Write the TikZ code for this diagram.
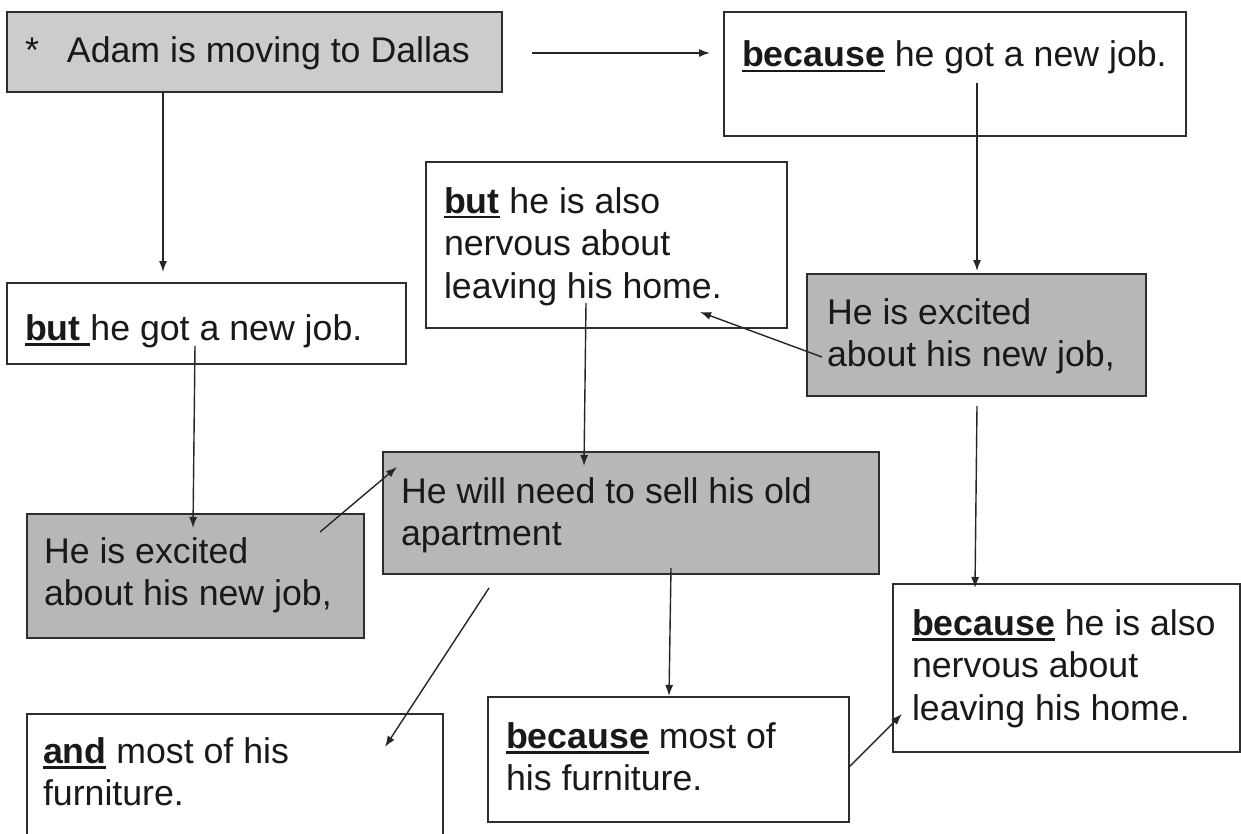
\documentclass[tikz,border=0pt]{standalone}
\usepackage{fontspec}
\setmainfont{Liberation Sans}
\usetikzlibrary{calc,arrows.meta}
\definecolor{lgray}{HTML}{CCCCCC}
\definecolor{mgray}{HTML}{B7B7B7}
\definecolor{edge}{HTML}{2E2E2E}
\newcommand\myul[1]{\setbox0=\hbox{#1}\rlap{\rule[-5.5pt]{\wd0}{2.8pt}}\box0\relax}
\newcommand\fl{\rule{0pt}{28pt}}
\tikzset{
  box/.style={draw=edge, line width=1.8pt, anchor=north west, inner sep=0pt, outer sep=0pt},
  txt/.style={anchor=north west, inner sep=0pt, outer sep=0pt, align=left,
              font=\fontsize{35.7}{42.5}\selectfont, text=black!90},
  conn/.style={line width=1.4pt, black!85, -{Latex[length=11pt,width=8pt]}}
}
\begin{document}
\begin{tikzpicture}[x=1pt,y=-1pt]
\clip (0,0) rectangle (1241,834);
\fill[white] (0,0) rectangle (1241,834);
% boxes
\node[box, fill=lgray, minimum width=495pt, minimum height=80pt] (adam) at (7,12) {};
\node[box, fill=white, minimum width=462pt, minimum height=124pt] (because1) at (724,12) {};
\node[box, fill=white, minimum width=399pt, minimum height=81pt] (butnew) at (7,283) {};
\node[box, fill=white, minimum width=361pt, minimum height=166pt] (butalso) at (426,162) {};
\node[box, fill=mgray, minimum width=339pt, minimum height=122pt] (excR) at (807,274) {};
\node[box, fill=mgray, minimum width=337pt, minimum height=124pt] (excL) at (27,514) {};
\node[box, fill=mgray, minimum width=496pt, minimum height=122pt] (sell) at (383,452) {};
\node[box, fill=white, minimum width=416pt, minimum height=140pt] (andb) at (27,714) {};
\node[box, fill=white, minimum width=361pt, minimum height=125pt] (bmost) at (488,697) {};
\node[box, fill=white, minimum width=347pt, minimum height=168pt] (bhome) at (893,584) {};
% texts
\node[txt] (adamT) at (25,{63-28}) {\fl\makebox[42pt][l]{*}Adam is moving to Dallas};
\node[txt] (because1T) at (742,{67-28}) {\fl\myul{\textbf{because}} he got a new job.};
\node[txt] (butnewT) at (25,{340-28}) {\fl\myul{\textbf{but} }he got a new job.};
\node[txt] (butalsoT) at (444,{213-28}) {\fl\myul{\textbf{but}} he is also\\nervous about\\leaving his home.};
\node[txt] (excRT) at (827,{324-28}) {\fl He is excited\\about his new job,};
\node[txt] (excLT) at (44,{563-28}) {\fl He is excited\\about his new job,};
\node[txt] (sellT) at (401,{503-28}) {\fl He will need to sell his old\\apartment};
\node[txt] (andT) at (43,{763-28}) {\fl\myul{\textbf{and}} most of his\\furniture.};
\node[txt] (bmostT) at (506,{748-28}) {\fl\myul{\textbf{because}} most of\\his furniture.};
\node[txt] (bhomeT) at (912,{635-28}) {\fl\myul{\textbf{because}} he is also\\nervous about\\leaving his home.};
% connectors
\draw[conn] ($(adam.north west)+(525,41)$) -- ($(because1.north west)+(-14,41)$);
\draw[conn] ($(adam.north west)+(156,80)$) -- ($(butnew.north west)+(156,-11)$);
\draw[conn] ($(because1.north west)+(253,71)$) -- ($(excR.north west)+(170,-3)$);
\draw[conn] ($(excR.north west)+(15,83)$) -- ($(butalso.north west)+(274,150)$);
\draw[conn] ($(butalso.north west)+(160,141)$) -- ($(sell.north west)+(201,14)$);
\draw[conn] ($(butnew.north west)+(188,63)$) -- ($(excL.north west)+(166,14)$);
\draw[conn] ($(excL.north west)+(293,18)$) -- ($(sell.north west)+(14,15)$);
\draw[conn] ($(sell.north west)+(106,136)$) -- ($(andb.north west)+(358,33)$);
\draw[conn] ($(sell.north west)+(288,116)$) -- ($(bmost.north west)+(181,-1)$);
\draw[conn] ($(excR.north west)+(170,132)$) -- ($(bhome.north west)+(82,4)$);
\draw[conn] ($(bmost.north west)+(361,70)$) -- ($(bhome.north west)+(9,130)$);
\end{tikzpicture}
\end{document}
